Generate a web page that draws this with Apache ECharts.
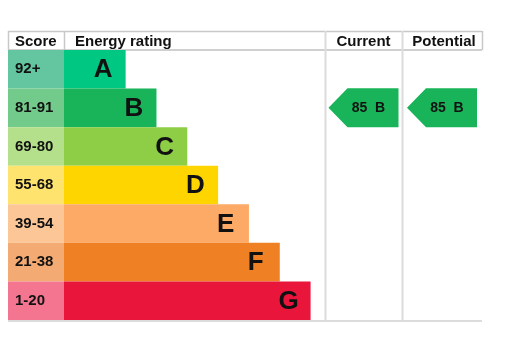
<!DOCTYPE html>
<html>
<head>
<meta charset="utf-8">
<script src="https://cdn.jsdelivr.net/npm/echarts@6/dist/echarts.min.js"></script>
<style>html,body{margin:0;padding:0;background:#fff}#c{width:523px;height:337px}</style>
</head>
<body>
<div id="c"></div>
<script>
var bands = ['A', 'B', 'C', 'D', 'E', 'F', 'G'];
var scoreRanges = ['92+', '81-91', '69-80', '55-68', '39-54', '21-38', '1-20'];
var barLengths = [2, 3, 4, 5, 6, 7, 8];
var scoreColors = ['#64c5a1', '#72cb8a', '#b5e08b', '#fee36f', '#fdc697', '#f4ab73', '#f37590'];
var bandColors = ['#00c781', '#19b459', '#8dce46', '#ffd500', '#fcaa65', '#ef8023', '#e9153b'];
var currentScore = 85, currentBand = 'B';
var potentialScore = 85, potentialBand = 'B';
var headers = ['Score', 'Energy rating', 'Current', 'Potential'];

var FONT = '"Liberation Sans", Arial, sans-serif';
var chart = echarts.init(document.getElementById('c'), null, {renderer: 'canvas'});

var TOP = 50, H = 270;
function yAx(i) {
  return {type: 'category', data: bands, inverse: true, gridIndex: i, show: false};
}
function xAx(i, max) {
  return {type: 'value', min: 0, max: max, gridIndex: i, show: false};
}
var arrowPath = 'path://M0,19.5 L19,0 L70,0 L70,39 L19,39 Z';
function arrowSeries(idx, score, band) {
  return {
    type: 'scatter', xAxisIndex: idx, yAxisIndex: idx,
    data: [[0.5, band]],
    symbol: arrowPath, symbolSize: [70, 39],
    itemStyle: {color: bandColors[bands.indexOf(band)], opacity: 1},
    label: {
      show: true, position: 'inside', offset: [5, 0],
      formatter: score + '  ' + band,
      fontFamily: FONT, fontWeight: 'bold', fontSize: 14, color: '#111'
    },
    emphasis: {disabled: true}, silent: true
  };
}
function line(x1, y1, x2, y2, col, w) {
  return {type: 'line', shape: {x1: x1, y1: y1, x2: x2, y2: y2}, style: {stroke: col, lineWidth: w}, silent: true};
}
function htext(x, y, t, align) {
  return {type: 'text', x: x, y: y, style: {text: t, font: 'bold 15px ' + FONT, fill: '#111', textAlign: align, textVerticalAlign: 'middle'}};
}

chart.setOption({
  animation: false,
  grid: [
    {left: 8, top: TOP, width: 56, height: H},
    {left: 64, top: TOP, width: 262, height: H},
    {left: 325, top: TOP, width: 77, height: H},
    {left: 402, top: TOP, width: 80, height: H}
  ],
  xAxis: [xAx(0, 1), xAx(1, 8.5), xAx(2, 1), xAx(3, 1)],
  yAxis: [yAx(0), yAx(1), yAx(2), yAx(3)],
  series: [
    {
      type: 'bar', xAxisIndex: 0, yAxisIndex: 0, barCategoryGap: '0%',
      data: scoreRanges.map(function (s, i) { return {value: 1, itemStyle: {color: scoreColors[i]}}; }),
      label: {
        show: true, position: 'insideLeft', distance: 7,
        formatter: function (p) { return scoreRanges[p.dataIndex]; },
        fontFamily: FONT, fontWeight: 'bold', fontSize: 15, color: '#111'
      },
      silent: true
    },
    {
      type: 'bar', xAxisIndex: 1, yAxisIndex: 1, barCategoryGap: '0%',
      data: barLengths.map(function (v, i) { return {value: v, itemStyle: {color: bandColors[i]}}; }),
      label: {
        show: true, position: ['100%', '50%'], offset: [-32, 1], align: 'left', verticalAlign: 'middle',
        formatter: function (p) { return bands[p.dataIndex]; },
        fontFamily: FONT, fontWeight: 'bold', fontSize: 26, color: '#111'
      },
      silent: true
    },
    arrowSeries(2, currentScore, currentBand),
    arrowSeries(3, potentialScore, potentialBand)
  ],
  graphic: [
    line(8, 31.5, 482, 31.5, '#c8c8c8', 1.5),
    line(8, 50, 482, 50, '#c0c0c0', 1.5),
    line(8, 321, 482, 321, '#dcdcdc', 2),
    line(8.5, 31, 8.5, 50, '#c8c8c8', 1.5),
    line(64.5, 31, 64.5, 50, '#c8c8c8', 1.5),
    line(325.5, 31, 325.5, 321, '#dcdcdc', 2),
    line(402.5, 31, 402.5, 321, '#dcdcdc', 2),
    line(482.5, 31, 482.5, 50, '#c8c8c8', 1.5),
    htext(15, 41.5, headers[0], 'left'),
    htext(75, 41.5, headers[1], 'left'),
    htext(363.5, 41.5, headers[2], 'center'),
    htext(444, 41.5, headers[3], 'center')
  ]
});
</script>
</body>
</html>
